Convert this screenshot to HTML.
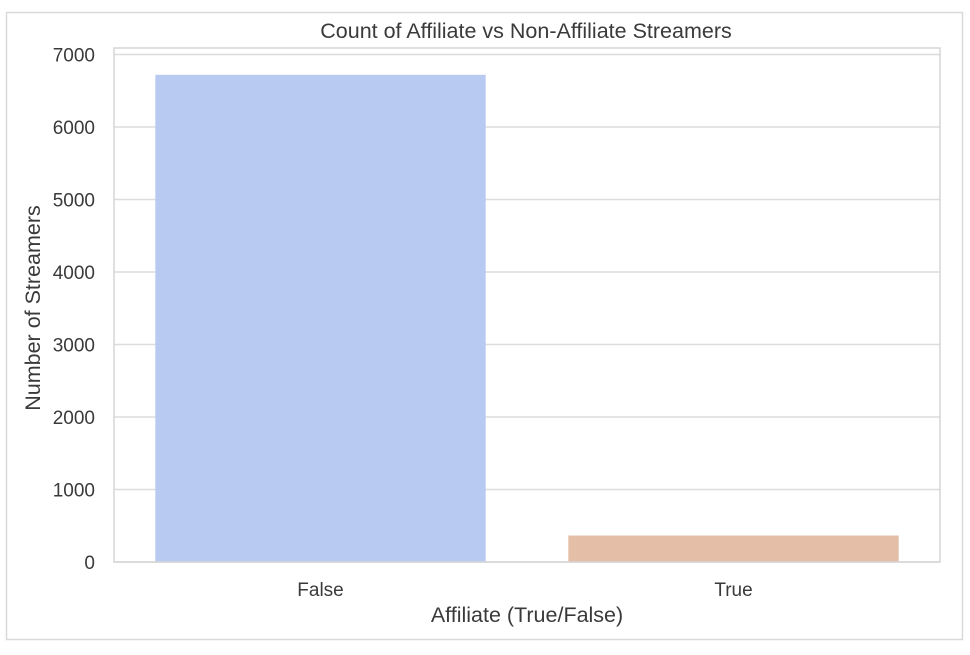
<!DOCTYPE html>
<html><head><meta charset="utf-8"><style>
body{margin:0;background:#fff;}
svg text{font-family:"Liberation Sans",Arial,sans-serif;fill:#3a3a3a;}
</style></head><body>
<svg width="970" height="650">
<rect x="6.5" y="12.5" width="956" height="627" fill="#fff" stroke="#d9d9d9" stroke-width="1.5"/>
<g id="grid"></g>
<g id="bars"></g>
<rect x="114" y="48" width="826" height="514" fill="none" stroke="#d5d5d5" stroke-width="1.5"/>
<g id="ticks"></g>
<text x="526" y="38" font-size="21.5" text-anchor="middle">Count of Affiliate vs Non-Affiliate Streamers</text>
<text x="527" y="622" font-size="21.5" text-anchor="middle">Affiliate (True/False)</text>
<text x="40" y="308" font-size="21.5" text-anchor="middle" transform="rotate(-90 40 308)">Number of Streamers</text>
</svg>
<script>
const categories=["False","True"];
const counts=[6720,365];
const colors=["#b9caf2","#e5bea7"];
const yTicks=[0,1000,2000,3000,4000,5000,6000,7000];
const ns="http://www.w3.org/2000/svg";
const L=114,R=940,B=562;
const y=v=>B-v*0.0725;
const band=(R-L)/categories.length;
const xc=i=>L+band*(i+0.5);
function mk(t,a,p){const e=document.createElementNS(ns,t);for(const k in a)e.setAttribute(k,a[k]);p.appendChild(e);return e;}
const g=document.getElementById('grid'),b=document.getElementById('bars'),tk=document.getElementById('ticks');
yTicks.forEach(v=>{
 const l=mk('line',{x1:L,x2:R,y1:y(v),y2:y(v),stroke:'#dcdcdc','stroke-width':1.5},g);
 
 
 const t=mk('text',{x:95,y:y(v)+7,'font-size':19,'text-anchor':'end'},tk);t.textContent=v;
 
 
});
categories.forEach((c,i)=>{
 const w=band*0.8;
 const r=mk('rect',{x:xc(i)-w/2,y:y(counts[i]),width:w,height:B-y(counts[i]),fill:colors[i]},b);
 
 
 const t=mk('text',{x:xc(i),y:596,'font-size':19,'text-anchor':'middle'},tk);t.textContent=c;
 
 
});
</script>
</body></html>
